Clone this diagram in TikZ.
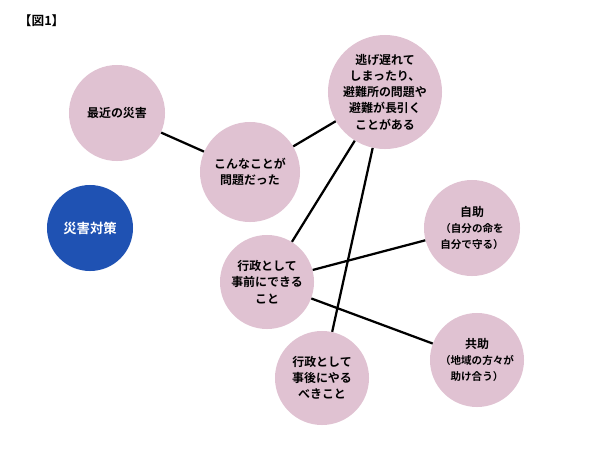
\documentclass[tikz,border=0pt]{standalone}
\usepackage{fontspec}
\setmainfont{Noto Sans CJK JP}[BoldFont={* Bold}]
\definecolor{bubble}{HTML}{E0C2D2}
\definecolor{topic}{HTML}{1F52B3}
\tikzset{
    bub/.style={circle, fill=bubble, inner sep=0pt, align=center, font=\fontsize{8.5}{11.5}\selectfont\bfseries},
    link/.style={line width=1.6pt, black}
}
\begin{document}
\begin{tikzpicture}[x=0.025cm, y=-0.025cm]
        \useasboundingbox (0,0) rectangle (600,450);
        \node[anchor=north west, font=\fontsize{9}{11}\selectfont\bfseries] (fig) at (14,10) {【図1】};
        \node[bub, minimum size=2.4cm] (recent) at (117,113) {最近の災害};
        \node[bub, minimum size=2.5cm] (problem) at (250,172) {こんなことが\\問題だった};
        \node[bub, minimum size=2.85cm] (late) at (385,92) {逃げ遅れて\\しまったり、\\避難所の問題や\\避難が長引く\\ことがある};
        \node[bub, minimum size=2.4cm] (self) at (472,228) {自助\\{\fontsize{7.5}{10}\selectfont（自分の命を}\\{\fontsize{7.5}{10}\selectfont 自分で守る）}};
        \node[bub, minimum size=2.35cm] (before) at (267,282) {行政として\\事前にできる\\こと};
        \node[bub, minimum size=2.35cm] (mutual) at (477,360) {共助\\{\fontsize{7.5}{10}\selectfont（地域の方々が}\\{\fontsize{7.5}{10}\selectfont 助け合う）}};
        \node[bub, minimum size=2.35cm] (after) at (322,378) {行政として\\事後にやる\\べきこと};
        \node[circle, fill=topic, text=white, minimum size=2.15cm, inner sep=0pt, font=\fontsize{9.5}{12}\selectfont\bfseries] (taisaku) at (90,228) {災害対策};
        \draw[link] (recent) -- (problem);
        \draw[link] (problem) -- (late);
        \draw[link] (late) -- (before);
        \draw[link] (late) -- (after);
        \draw[link] (before) -- (self);
        \draw[link] (before) -- (mutual);
    \end{tikzpicture}
\end{document}
